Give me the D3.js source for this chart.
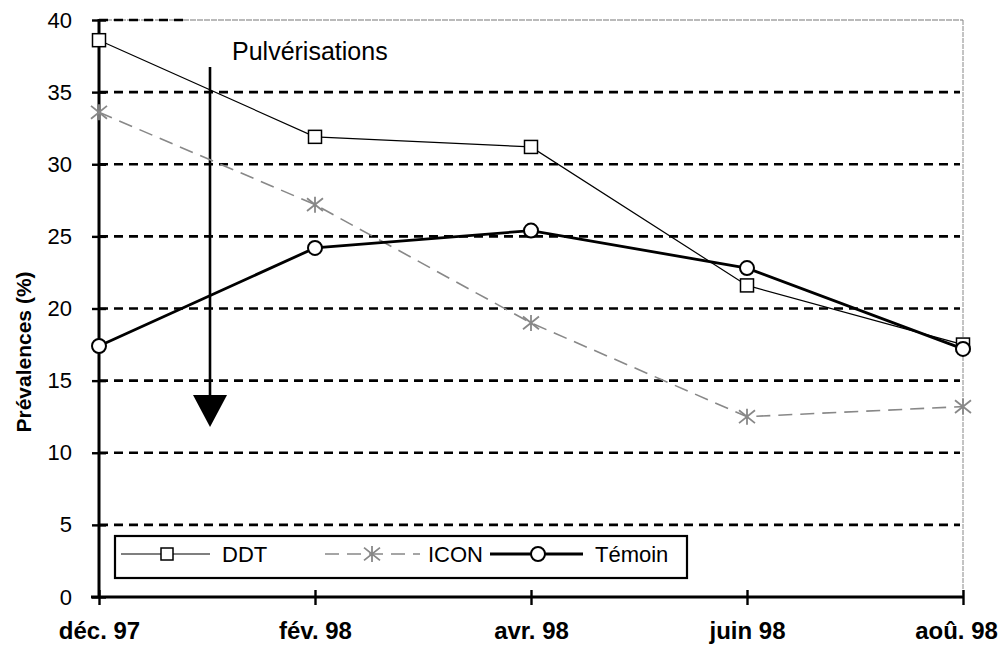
<!DOCTYPE html>
<html lang="fr">
<head>
<meta charset="UTF-8">
<title>Prévalences</title>
<script src="https://d3js.org/d3.v7.min.js"></script>
<style>
  body { margin: 0; background: #fff; }
  svg { display: block; font-family: "Liberation Sans", Arial, sans-serif; }
</style>
</head>
<body>
<svg id="chart" width="1002" height="647"></svg>
<script>
// data
const months = ["déc. 97", "fév. 98", "avr. 98", "juin 98", "aoû. 98"];
const ddt    = [38.6, 31.9, 31.2, 21.6, 17.5];
const icon   = [33.6, 27.2, 19.0, 12.5, 13.2];
const temoin = [17.4, 24.2, 25.4, 22.8, 17.2];
const yTicks = [0, 5, 10, 15, 20, 25, 30, 35, 40];

const svg = d3.select("#chart");
const plotL = 99, plotR = 963, plotT = 20, plotB = 597;

const x = d3.scalePoint().domain(months).range([plotL, plotR]).padding(0);
const y = d3.scaleLinear().domain([0, 40]).range([plotB, plotT]);

// grid lines
svg.append("g").selectAll("line")
  .data(yTicks.filter(d => d > 0 && d < 40))
  .enter().append("line")
  .attr("x1", plotL).attr("x2", plotR - 3)
  .attr("y1", d => y(d)).attr("y2", d => y(d))
  .attr("stroke", "#000").attr("stroke-width", 2.6)
  .attr("stroke-dasharray", "9,6");

// top and right border (faint)
svg.append("line").attr("x1", plotL).attr("x2", plotR)
  .attr("y1", y(40)).attr("y2", y(40))
  .attr("stroke", "#777").attr("stroke-width", 1.2).attr("stroke-dasharray", "6,1");
svg.append("line").attr("x1", plotL).attr("x2", plotL + 85)
  .attr("y1", y(40)).attr("y2", y(40))
  .attr("stroke", "#000").attr("stroke-width", 2.4).attr("stroke-dasharray", "9,6");
svg.append("line").attr("x1", plotR).attr("x2", plotR)
  .attr("y1", y(40)).attr("y2", plotB)
  .attr("stroke", "#888").attr("stroke-width", 1).attr("stroke-dasharray", "5,1");

// y axis
const yAxis = d3.axisLeft(y).tickValues(yTicks).tickSize(7).tickPadding(20);
const gy = svg.append("g").attr("transform", `translate(${plotL},0)`).call(yAxis);
gy.attr("font-size", 22).attr("font-family", "Liberation Sans, Arial, sans-serif");
gy.select(".domain").attr("stroke-width", 3).attr("d", `M0,${plotT - 1}V${plotB}`);
gy.selectAll(".tick line").attr("x2", -7).attr("x1", 7).attr("stroke-width", 2.4);
gy.selectAll(".tick text").attr("fill", "#000");

// x axis
const xAxis = d3.axisBottom(x).tickSize(8).tickPadding(24);
const gx = svg.append("g").attr("transform", `translate(0,${plotB})`).call(xAxis);
gx.attr("font-size", 24).attr("font-family", "Liberation Sans, Arial, sans-serif");
gx.select(".domain").attr("stroke-width", 3).attr("d", `M${plotL - 8},0H${plotR}`);
gx.selectAll(".tick line").attr("y1", -7).attr("y2", 8).attr("stroke-width", 2.4);
gx.selectAll(".tick text").attr("font-weight", "bold")
  .attr("fill", "#000").attr("dy", "0.4em")
  .attr("dx", (d, i) => i === months.length - 1 ? -7 : 0);

// y title
svg.append("text")
  .attr("transform", "translate(31,352) rotate(-90)")
  .attr("text-anchor", "middle")
  .attr("font-size", 21).attr("font-weight", "bold")
  .text("Prévalences (%)");

// spraying arrow
svg.append("line").attr("x1", 210).attr("x2", 210).attr("y1", 67).attr("y2", 398)
  .attr("stroke", "#000").attr("stroke-width", 2.6);
svg.append("path").attr("d", "M193,395L227,395L210,427Z").attr("fill", "#000");
svg.append("text").attr("x", 232).attr("y", 60).attr("font-size", 25)
  .text("Pulvérisations");

const line = d3.line().x((d, i) => x(months[i])).y(d => y(d));

function squareMark(g, s) {
  return g.append("rect").attr("width", s).attr("height", s)
    .attr("x", -s / 2).attr("y", -s / 2)
    .attr("fill", "#fff").attr("stroke", "#000").attr("stroke-width", 1.5);
}
function starMark(g) {
  const r = 8;
  g.append("path")
    .attr("d", `M${-r},${-r * 0.8}L${r},${r * 0.8}M${-r},${r * 0.8}L${r},${-r * 0.8}M0,${-r}V${r}`)
    .attr("stroke", "#888").attr("stroke-width", 1.8).attr("fill", "none");
}
function circleMark(g) {
  return g.append("circle").attr("r", 7)
    .attr("fill", "#fff").attr("stroke", "#000").attr("stroke-width", 2);
}

// ICON
svg.append("path").datum(icon).attr("d", line)
  .attr("fill", "none").attr("stroke", "#888").attr("stroke-width", 1.6)
  .attr("stroke-dasharray", "14,8");
svg.append("g").selectAll("g").data(icon).enter().append("g")
  .attr("transform", (d, i) => `translate(${x(months[i])},${y(d)})`)
  .each(function () { starMark(d3.select(this)); });

// DDT
svg.append("path").datum(ddt).attr("d", line)
  .attr("fill", "none").attr("stroke", "#000").attr("stroke-width", 1.2);
svg.append("g").selectAll("g").data(ddt).enter().append("g")
  .attr("transform", (d, i) => `translate(${x(months[i])},${y(d)})`)
  .each(function () { squareMark(d3.select(this), 13); });

// Témoin
svg.append("path").datum(temoin).attr("d", line)
  .attr("fill", "none").attr("stroke", "#000").attr("stroke-width", 2.8);
svg.append("g").selectAll("g").data(temoin).enter().append("g")
  .attr("transform", (d, i) => `translate(${x(months[i])},${y(d)})`)
  .each(function () { circleMark(d3.select(this)); });

// legend
const lg = svg.append("g");
lg.append("rect").attr("x", 115).attr("y", 536).attr("width", 572).attr("height", 42)
  .attr("fill", "#fff").attr("stroke", "#000").attr("stroke-width", 2.2);
const ly = 554;
lg.append("line").attr("x1", 121).attr("x2", 210).attr("y1", ly).attr("y2", ly)
  .attr("stroke", "#000").attr("stroke-width", 1.2);
squareMark(lg.append("g").attr("transform", `translate(167,${ly})`), 12);
lg.append("text").attr("x", 222).attr("y", ly + 8).attr("font-size", 22).text("DDT");

lg.append("line").attr("x1", 325).attr("x2", 420).attr("y1", ly).attr("y2", ly)
  .attr("stroke", "#888").attr("stroke-width", 1.6).attr("stroke-dasharray", "14,8");
starMark(lg.append("g").attr("transform", `translate(372,${ly})`));
lg.append("text").attr("x", 428).attr("y", ly + 8).attr("font-size", 22).text("ICON");

lg.append("line").attr("x1", 490).attr("x2", 583).attr("y1", ly).attr("y2", ly)
  .attr("stroke", "#000").attr("stroke-width", 2.8);
circleMark(lg.append("g").attr("transform", `translate(538,${ly})`));
lg.append("text").attr("x", 595).attr("y", ly + 8).attr("font-size", 22).text("Témoin");
</script>
</body>
</html>
